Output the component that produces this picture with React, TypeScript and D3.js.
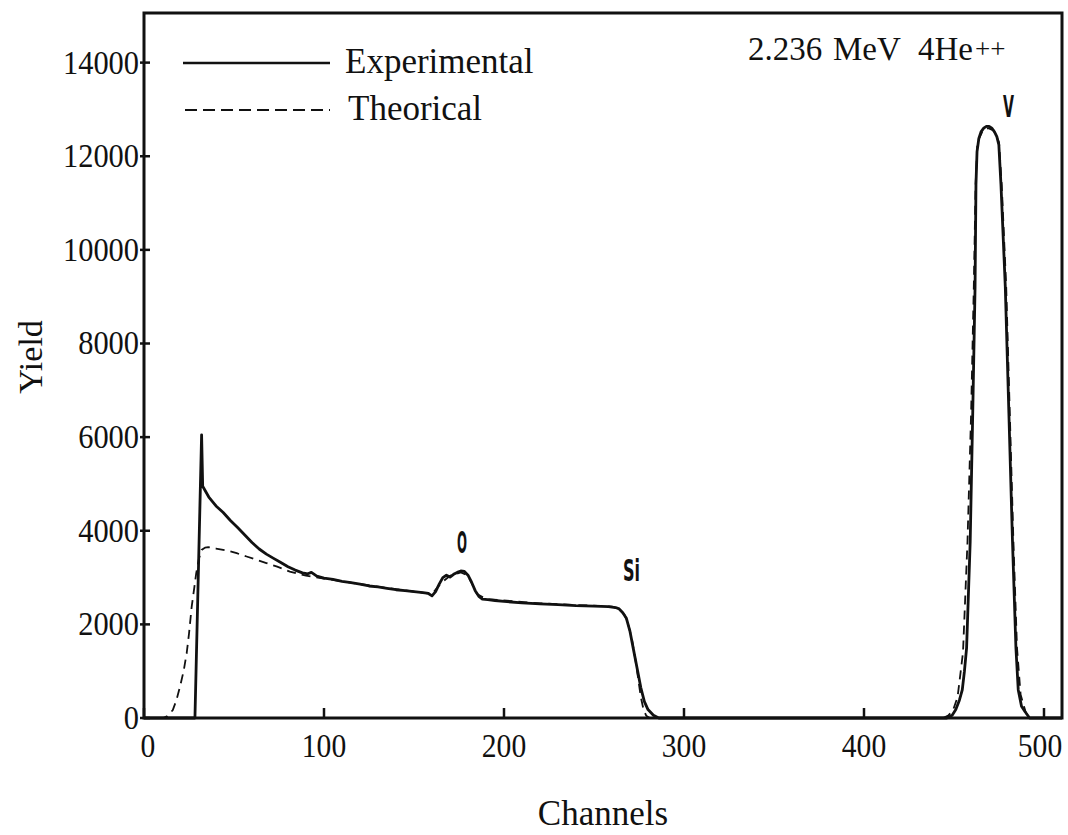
import React from 'react';
import * as d3 from 'd3';

// Experimental spectrum (channel, yield)
const expChannels = [
  0, 27, 28.3, 32, 32.6, 36, 40, 44, 48, 52, 56, 60, 64, 68, 72, 76, 80, 84, 88, 91, 93, 96, 100,
  105, 110, 115, 120, 125, 130, 135, 140, 145, 150, 155, 158, 160, 162, 164, 166, 168, 170, 172, 174,
  176, 178, 180, 182, 184, 186, 188, 191, 195, 200, 210, 220, 230, 240, 250, 258, 262, 264, 266, 268,
  270, 272, 274, 276, 278, 280, 283, 286, 446, 449, 451, 453, 454.6, 455.8, 457, 459, 460.4, 461.7,
  462.2, 462.8, 463.8, 465, 466.5, 468, 469.5, 471, 472.5, 473.8, 474.9, 476.1, 478.5, 480.5, 482.5, 484.4, 485.7,
  487.5, 489.4, 492, 510,
];
const expYields = [
  0, 0, 0, 6050, 4950, 4720, 4530, 4390, 4220, 4070, 3910, 3750, 3610, 3500, 3410, 3320, 3230, 3160, 3100, 3080, 3110, 3030, 2990,
  2960, 2920, 2890, 2860, 2820, 2800, 2770, 2740, 2720, 2700, 2680, 2660, 2610, 2700, 2860, 3000, 3050, 3010, 3070, 3110,
  3140, 3130, 3050, 2900, 2720, 2600, 2540, 2530, 2510, 2490, 2460, 2440, 2420, 2400, 2390, 2380, 2360, 2330, 2250, 2130,
  1850, 1450, 1050, 650, 350, 180, 60, 0, 0, 60, 180, 380, 600, 1000, 1500, 3770, 6500, 9210,
  11390, 12100, 12380, 12520, 12600, 12640, 12640, 12600, 12520, 12420, 12250, 11390, 9210, 6500, 3770, 1500, 600,
  250, 140, 0, 0,
];

// Theoretical spectrum (channel, yield)
const theoChannels = [
  0, 10.7, 13, 16, 18, 20, 22, 23.7, 25, 26.5, 28, 29, 30.5, 32, 34, 35.7, 40, 46, 51.5, 57, 62.6, 68, 74, 81, 90, 100,
  120, 140, 160, 165, 170, 176, 180, 185, 190, 220, 260, 264, 267, 269, 271, 273, 274.5, 276, 277.5, 279, 281,
  444, 447, 449.5, 452, 455, 457.5, 459.5, 461, 462, 463, 466, 469, 472, 475, 476.5, 479, 481, 483, 485, 487, 490, 493, 510,
];
const theoYields = [
  0, 0, 40, 170, 380, 670, 1000, 1380, 1800, 2380, 2800, 3090, 3400, 3590, 3640, 3650, 3620, 3580, 3520, 3450, 3380, 3310, 3233, 3126, 3040, 2980,
  2860, 2750, 2650, 2880, 3040, 3110, 3040, 2650, 2540, 2450, 2380, 2330, 2200, 2000, 1700, 1250, 850, 450, 180, 50, 0,
  0, 60, 170, 450, 1400, 3770, 6500, 9210, 11390, 12300, 12550, 12600, 12550, 12300, 11390, 9210, 6500, 3770, 1500, 500, 100, 0, 0,
];

const xTicks = [0, 100, 200, 300, 400, 500];
const yTicks = [0, 2000, 4000, 6000, 8000, 10000, 12000, 14000];

const peakLabels = ['O', 'Si', 'V'];
const peakChannels = [176.7, 270.8, 480.3];
const peakLabelYields = [3525, 2927, 12840];
const peakLabelWidths = [10, 17, 11];

const legendLabels = ['Experimental', 'Theorical'];
const annotation = ['2.236', 'MeV', '4He', '++'];

const W = 1068;
const H = 835;
const serif = '"Liberation Serif", "DejaVu Serif", serif';
const cond = '"DejaVu Sans Condensed", "DejaVu Sans", sans-serif';

export default function App() {
  const x = d3.scaleLinear().domain([0, 510]).range([144, 1062]);
  const y = d3.scaleLinear().domain([0, 15060]).range([718, 13]);

  const expData = expChannels.map((c, i) => [c, expYields[i]] as [number, number]);
  const theoData = theoChannels.map((c, i) => [c, theoYields[i]] as [number, number]);

  const line = d3
    .line<[number, number]>()
    .x((d) => x(d[0]))
    .y((d) => y(d[1]))
    .curve(d3.curveLinear);

  const [x0, x1] = x.range();
  const [y0, y1] = y.range();

  return (
    <svg
      width={W}
      height={H}
      style={{ position: 'absolute', left: 0, top: 0, background: '#fff' }}
    >
      <rect x={0} y={0} width={W} height={H} fill="#fff" />

      {/* data */}
      <path
        d={line(theoData) || ''}
        fill="none"
        stroke="#111"
        strokeWidth={1.8}
        strokeDasharray="9,6"
      />
      <path
        d={line(expData) || ''}
        fill="none"
        stroke="#111"
        strokeWidth={2.8}
        strokeLinejoin="round"
      />

      {/* frame */}
      <rect
        x={x0}
        y={y1}
        width={x1 - x0}
        height={y0 - y1}
        fill="none"
        stroke="#111"
        strokeWidth={3}
      />

      {/* y ticks */}
      {yTicks.map((t) => (
        <g key={'y' + t}>
          <line x1={x0 - 4} x2={x0 + 6} y1={y(t)} y2={y(t)} stroke="#111" strokeWidth={2.5} />
          <text
            x={139}
            y={y(t) + 11}
            textAnchor="end"
            fontFamily={serif}
            fontSize={34}
            textLength={String(t).length * 15.2}
            lengthAdjust="spacingAndGlyphs"
            fill="#111"
          >
            {t}
          </text>
        </g>
      ))}

      {/* x ticks */}
      {xTicks.map((t) => (
        <g key={'x' + t}>
          <line x1={x(t)} x2={x(t)} y1={y0} y2={y0 - 10} stroke="#111" strokeWidth={2.5} />
          <text
            x={x(t) + (t === 0 ? 4 : t === 500 ? -4 : 0)}
            y={757}
            textAnchor="middle"
            fontFamily={serif}
            fontSize={34}
            textLength={String(t).length * 14.8}
            lengthAdjust="spacingAndGlyphs"
            fill="#111"
          >
            {t}
          </text>
        </g>
      ))}

      {/* axis titles */}
      <text
        x={603}
        y={825}
        textAnchor="middle"
        fontFamily={serif}
        fontSize={35}
        fill="#111"
      >
        Channels
      </text>
      <text
        transform="translate(42,357) rotate(-90)"
        textAnchor="middle"
        fontFamily={serif}
        fontSize={34}
        fill="#111"
      >
        Yield
      </text>

      {/* legend */}
      <line x1={183} x2={330} y1={63} y2={63} stroke="#111" strokeWidth={2.5} />
      <text x={345} y={73} fontFamily={serif} fontSize={35} fill="#111">
        {legendLabels[0]}
      </text>
      <line
        x1={185}
        x2={330}
        y1={110}
        y2={110}
        stroke="#111"
        strokeWidth={2}
        strokeDasharray="12,6"
      />
      <text x={348} y={120} fontFamily={serif} fontSize={35} fill="#111">
        {legendLabels[1]}
      </text>

      {/* annotation */}
      <g fontFamily={serif} fontSize={33} fill="#111">
        <text x={748} y={60}>{annotation[0]}</text>
        <text x={833} y={60}>{annotation[1]}</text>
        <text x={918} y={60}>
          {annotation[2]}
          <tspan fontSize={27} dx={2} dy={-2}>{annotation[3]}</tspan>
        </text>
      </g>

      {/* peak labels */}
      {peakLabels.map((lab, i) => (
        <text
          key={lab}
          x={x(peakChannels[i])}
          y={y(peakLabelYields[i])}
          textAnchor="middle"
          fontFamily={cond}
          fontWeight="bold"
          fontSize={30}
          textLength={peakLabelWidths[i]}
          lengthAdjust="spacingAndGlyphs"
          fill="#111"
        >
          {lab}
        </text>
      ))}
    </svg>
  );
}
